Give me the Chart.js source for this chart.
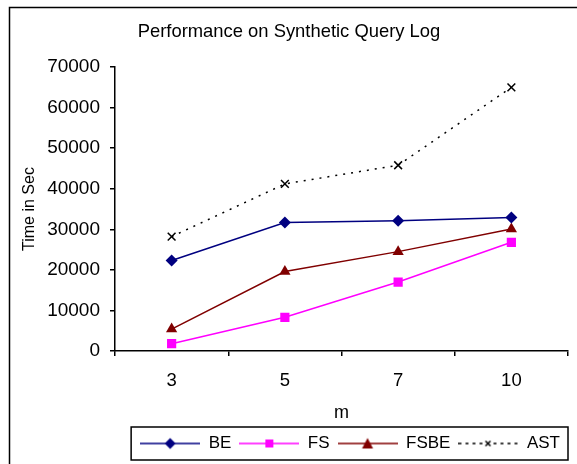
<!DOCTYPE html>
<html>
<head>
<meta charset="utf-8">
<script src="https://cdn.jsdelivr.net/npm/chart.js@4/dist/chart.umd.min.js"></script>
<style>
  html, body { margin: 0; padding: 0; background: #fff; }
  #wrap { width: 577px; height: 464px; }
</style>
</head>
<body>
<div id="wrap"><canvas id="lineChart" width="577" height="464"></canvas></div>
<script>
// datos
const categories = ['3', '5', '7', '10'];
const yTicks = [0, 10000, 20000, 30000, 40000, 50000, 60000, 70000];
const seriesNames = ['BE', 'FS', 'FSBE', 'AST'];
const valuesBE = [22300, 31700, 32100, 32900];
const valuesFS = [1800, 8300, 17000, 26800];
const valuesFSBE = [5400, 19600, 24500, 30100];
const valuesAST = [28200, 41200, 45800, 65000];

Chart.defaults.font.family = '"Liberation Sans", Arial, sans-serif';
Chart.defaults.color = '#000';

// icono de leyenda: linea + marcador
function legendIcon(color, marker, dash) {
  const c = document.createElement('canvas');
  c.width = 60; c.height = 14;
  const g = c.getContext('2d');
  g.strokeStyle = color;
  g.lineWidth = 1.5;
  g.setLineDash(dash || []);
  g.beginPath(); g.moveTo(0, 7); g.lineTo(60, 7); g.stroke();
  g.setLineDash([]);
  g.fillStyle = color;
  g.beginPath();
  if (marker === 'diamond') {
    g.moveTo(30, 1.5); g.lineTo(35.5, 7); g.lineTo(30, 12.5); g.lineTo(24.5, 7);
    g.closePath(); g.fill();
  } else if (marker === 'square') {
    g.fillRect(26, 3, 8, 8);
  } else if (marker === 'triangle') {
    g.moveTo(30, 1.5); g.lineTo(35.5, 12); g.lineTo(24.5, 12);
    g.closePath(); g.fill();
  } else {
    g.fillStyle = '#fff'; g.fillRect(25, 2, 10, 10);
    g.moveTo(27, 4.5); g.lineTo(32, 9.5); g.moveTo(32, 4.5); g.lineTo(27, 9.5);
    g.stroke();
  }
  return c;
}

const legendIcons = [
  legendIcon('#000080', 'diamond'),
  legendIcon('#FF00FF', 'square'),
  legendIcon('#800000', 'triangle'),
  legendIcon('#000', 'cross', [3, 4])
];

// marco exterior y caja de la leyenda
const framePlugin = {
  id: 'frame',
  afterDraw(chart) {
    const ctx = chart.ctx;
    ctx.save();
    ctx.strokeStyle = '#000';
    ctx.lineWidth = 1.5;
    ctx.strokeRect(9.5, 7.5, 700, 600);
    const boxes = chart.legend.legendHitBoxes;
    if (boxes && boxes.length) {
      const first = boxes[0], last = boxes[boxes.length - 1];
      const l = first.left - 9, r = last.left + last.width + 8;
      const t = first.top - 8, b = first.top + first.height + 8;
      ctx.strokeRect(l, t, r - l, b - t);
    }
    ctx.restore();
  }
};

const ctxLine = document.getElementById('lineChart').getContext('2d');

new Chart(ctxLine, {
  type: 'line',
  data: {
    labels: categories,
    datasets: [
      {
        label: seriesNames[0],
        data: valuesBE,
        borderColor: '#000080',
        backgroundColor: '#000080',
        borderWidth: 1.5,
        pointStyle: 'rectRot',
        pointRadius: 6,
        pointBorderWidth: 0
      },
      {
        label: seriesNames[1],
        data: valuesFS,
        borderColor: '#FF00FF',
        backgroundColor: '#FF00FF',
        borderWidth: 1.5,
        pointStyle: 'rect',
        pointRadius: 6.5,
        pointBorderWidth: 0
      },
      {
        label: seriesNames[2],
        data: valuesFSBE,
        borderColor: '#800000',
        backgroundColor: '#800000',
        borderWidth: 1.5,
        pointStyle: 'triangle',
        pointRadius: 6.5,
        pointBorderWidth: 0
      },
      {
        label: seriesNames[3],
        data: valuesAST,
        borderColor: '#000',
        backgroundColor: '#000',
        borderWidth: 1.5,
        borderDash: [2, 6],
        pointStyle: 'crossRot',
        pointRadius: 5.5,
        pointBorderWidth: 1.5,
        pointBorderColor: '#000'
      }
    ]
  },
  options: {
    responsive: false,
    animation: false,
    layout: { padding: { left: 10, right: 9, top: 7, bottom: 2 } },
    plugins: {
      tooltip: { enabled: false },
      title: {
        display: true,
        text: 'Performance on Synthetic Query Log',
        font: { size: 18.4, weight: 'normal' },
        color: '#000',
        padding: { top: 14, bottom: 24 }
      },
      legend: {
        position: 'bottom',
        align: 'end',
        labels: {
          usePointStyle: true,
          pointStyleWidth: 60,
          padding: 8,
          font: { size: 17 },
          color: '#000',
          generateLabels(chart) {
            const items = Chart.defaults.plugins.legend.labels.generateLabels(chart);
            items.forEach((it, i) => { it.pointStyle = legendIcons[i]; it.lineWidth = 0; });
            return items;
          }
        }
      }
    },
    scales: {
      x: {
        offset: true,
        grid: { offset: true, drawOnChartArea: false, tickLength: 5, color: '#000', lineWidth: 1.5 },
        border: { color: '#000', width: 1.5 },
        ticks: { font: { size: 18.5 }, color: '#000', padding: 14 },
        title: { display: true, text: 'm', font: { size: 18 }, color: '#000', padding: { top: 0, bottom: 3 } },
        afterFit(s) { s.height = 76; }
      },
      y: {
        min: 0,
        max: 70000,
        afterBuildTicks(s) { s.ticks = yTicks.map(v => ({ value: v })); },
        grid: { drawOnChartArea: false, tickLength: 5, color: '#000', lineWidth: 1.5 },
        border: { color: '#000', width: 1.5 },
        ticks: { font: { size: 19 }, color: '#000', padding: 10, callback: v => String(v) },
        title: { display: true, text: 'Time in Sec', font: { size: 16 }, color: '#000', padding: { top: 10, bottom: 0 } },
        afterFit(s) { s.width = 105; }
      }
    }
  },
  plugins: [framePlugin]
});
</script>
</body>
</html>
